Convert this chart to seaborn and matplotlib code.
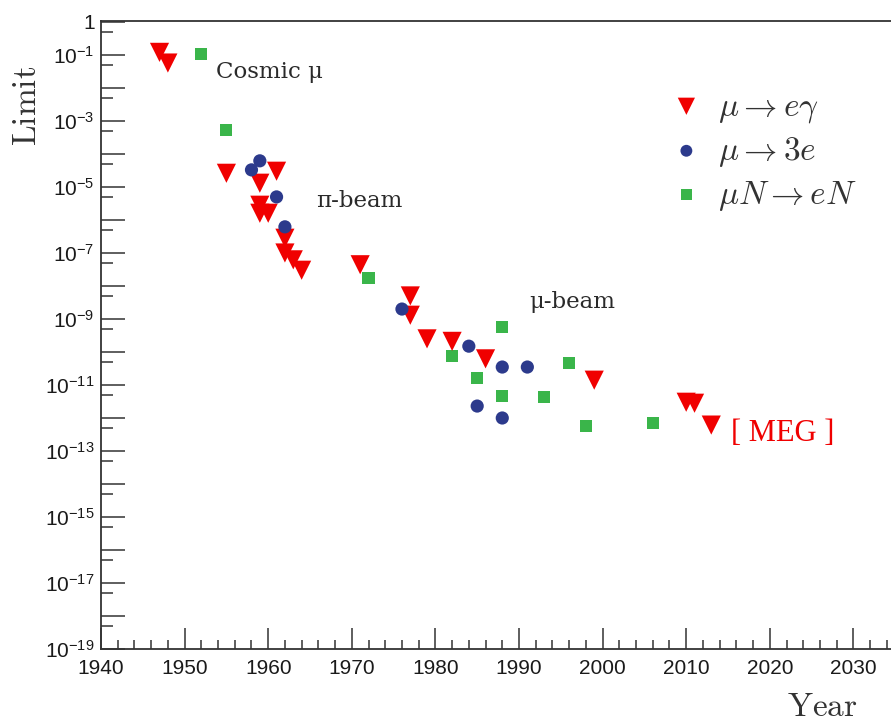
import numpy as np
import pandas as pd
import matplotlib
matplotlib.use("Agg")
import matplotlib.pyplot as plt
import seaborn as sns
from matplotlib.ticker import FixedLocator, FuncFormatter, MultipleLocator

# =========================
# Data
# =========================
egamma_year = [1947, 1948, 1955, 1961, 1959, 1959, 1959, 1960, 1962, 1962,
               1963, 1964, 1971, 1977, 1977, 1979, 1982, 1986, 1999, 2010,
               2011, 2013]
egamma_limit = [1.2e-1, 5.7e-2, 2.6e-5, 3.0e-5, 1.3e-5, 2.8e-6, 1.6e-6, 1.6e-6,
                2.8e-7, 1.0e-7, 6.2e-8, 3.0e-8, 4.4e-8, 5.0e-9, 1.3e-9, 2.5e-10,
                2.1e-10, 6.2e-11, 1.4e-11, 3.0e-12, 2.8e-12, 6.1e-13]

three_e_year = [1958, 1959, 1961, 1962, 1976, 1984, 1988, 1991, 1985, 1988]
three_e_limit = [3.3e-5, 6.2e-5, 5.0e-6, 6.2e-7, 2.0e-9, 1.5e-10, 3.5e-11,
                 3.5e-11, 2.3e-12, 1.0e-12]

conv_year = [1952, 1955, 1972, 1982, 1988, 1985, 1988, 1993, 1996, 1998, 2006]
conv_limit = [1.1e-1, 5.4e-4, 1.7e-8, 7.6e-11, 5.7e-10, 1.6e-11, 4.7e-12,
              4.4e-12, 4.7e-11, 5.7e-13, 7.1e-13]

labels = [r'$\mu \rightarrow e\gamma$', r'$\mu \rightarrow 3e$',
          r'$\mu N \rightarrow eN$']
colors = ['#f00000', '#2c3a8c', '#3ab54a']

y_label_exps = [0, -1, -3, -5, -7, -9, -11, -13, -15, -17, -19]

# =========================
# Style
# =========================
sns.set_style('white')
plt.rcParams['font.family'] = ['Liberation Sans', 'DejaVu Sans']
plt.rcParams['mathtext.fontset'] = 'cm'

fig = plt.figure(figsize=(8.91, 7.22), dpi=100)
ax = fig.add_axes([101 / 891, 73 / 722, 1 - 101 / 891, 628 / 722])

df_eg = pd.DataFrame({'year': egamma_year, 'limit': egamma_limit})
df_3e = pd.DataFrame({'year': three_e_year, 'limit': three_e_limit})
df_cv = pd.DataFrame({'year': conv_year, 'limit': conv_limit})

sns.scatterplot(data=df_eg, x='year', y='limit', marker='v', s=190,
                color=colors[0], edgecolor='none', label=labels[0], ax=ax, zorder=3)
sns.scatterplot(data=df_3e, x='year', y='limit', marker='o', s=90,
                color=colors[1], edgecolor='none', label=labels[1], ax=ax, zorder=4)
sns.scatterplot(data=df_cv, x='year', y='limit', marker='s', s=75,
                color=colors[2], edgecolor='none', label=labels[2], ax=ax, zorder=2)

ax.set_yscale('log')
ax.set_xlim(1940, 2034.5)
ax.set_ylim(1e-19, 1.07)

# y ticks: every decade, labels on odd exponents
ax.yaxis.set_major_locator(FixedLocator([10.0 ** k for k in range(0, -20, -1)]))
ax.yaxis.set_minor_locator(FixedLocator([5 * 10.0 ** k for k in range(-1, -20, -1)]))


def ylab(v, pos):
    k = int(round(np.log10(v)))
    if k not in y_label_exps:
        return ''
    if k == 0:
        return '1'
    return r'$\mathregular{10^{%d}}$' % k


ax.yaxis.set_major_formatter(FuncFormatter(ylab))
ax.xaxis.set_major_locator(MultipleLocator(10))
ax.xaxis.set_minor_locator(MultipleLocator(2))

ax.tick_params(axis='both', which='both', direction='in', colors='#333333',
               labelcolor='#1a1a1a', labelsize=15, left=True, bottom=True,
               top=False, right=False)
ax.tick_params(axis='y', which='major', length=17, width=1.1, pad=4.5)
ax.tick_params(axis='y', which='minor', length=8.5, width=1.1)
ax.tick_params(axis='x', which='major', length=15, width=1.1, pad=7)
ax.tick_params(axis='x', which='minor', length=6.5, width=1.1)

for side in ['left', 'bottom', 'top']:
    ax.spines[side].set_color('#333333')
    ax.spines[side].set_linewidth(1.3)
ax.spines['right'].set_visible(False)

ax.set_xlabel('')
ax.set_ylabel('')
fig.text(27 / 891, (722 - 106) / 722, r'$\mathrm{Limit}$', rotation=90,
         ha='center', va='center', fontsize=24, color='#333333')
fig.text(858 / 891, 14 / 722, r'$\mathrm{Year}$', ha='right', va='center',
         fontsize=24, color='#333333')

# annotations
ann_font = ['DejaVu Serif']
ax.text(1953.8, 0.030, 'Cosmic μ', fontsize=16.5, va='center', ha='left',
        family=ann_font, color='#2a2a2a')
ax.text(1965.7, 3.8e-6, 'π-beam', fontsize=16.5, va='center', ha='left',
        family=ann_font, color='#2a2a2a')
ax.text(1991.2, 3.3e-9, 'μ-beam', fontsize=16.5, va='center', ha='left',
        family=ann_font, color='#2a2a2a')
ax.text(2015.4, 3.5e-13, '[ MEG ]', fontsize=22, va='center', ha='left',
        family=['Liberation Serif', 'DejaVu Serif'], color='#f00000')

leg = ax.legend(loc='upper left', bbox_to_anchor=(0.722, 0.8885), frameon=False,
                fontsize=24, handlelength=0.9, handletextpad=0.5,
                labelspacing=0.3, borderpad=0, borderaxespad=0, markerscale=0.9)
for t in leg.get_texts():
    t.set_color('#333333')

fig.savefig('out.png', dpi=100)
